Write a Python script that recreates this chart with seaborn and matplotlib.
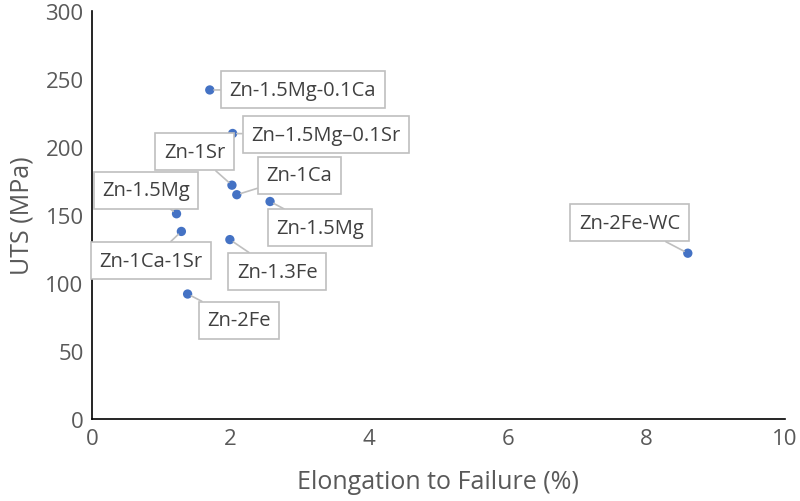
import numpy as np
import pandas as pd
import matplotlib
matplotlib.use('Agg')
import matplotlib.pyplot as plt
import seaborn as sns

# alloy data
alloys = ['Zn-1.5Mg-0.1Ca', 'Zn\u20131.5Mg\u20130.1Sr', 'Zn-1Sr', 'Zn-1Ca', 'Zn-1.5Mg',
          'Zn-1.5Mg', 'Zn-1Ca-1Sr', 'Zn-1.3Fe', 'Zn-2Fe', 'Zn-2Fe-WC']
elongation = [1.70, 2.03, 2.02, 2.09, 2.57, 1.22, 1.29, 1.99, 1.38, 8.60]
uts = [242, 210, 172, 165, 160, 151, 138, 132, 92, 122]

# label box offsets (points) from each marker
label_dx = [67, 67, -27, 45, 36, -22, -22, 34, 37, -42]
label_dy = [0, -1, 24, 14, -19, 17, -21, -23, -19, 22]

df = pd.DataFrame({'alloy': alloys, 'elong': elongation, 'uts': uts})

sns.set_style('white')
plt.rcParams['font.family'] = ['Open Sans', 'DejaVu Sans']

fig = plt.figure(figsize=(8, 5.02), dpi=100)
ax = fig.add_axes([0.115, 0.163, 0.866, 0.813])

sns.scatterplot(data=df, x='elong', y='uts', ax=ax, color='#4472C4',
                s=45, edgecolor='none', zorder=3)

for name, x, y, dx, dy in zip(alloys, elongation, uts, label_dx, label_dy):
    ax.annotate(name, xy=(x, y), xytext=(dx, dy), textcoords='offset points',
                ha='center', va='center', fontsize=14.5, color='#404040',
                bbox=dict(boxstyle='square,pad=0.42', fc='white', ec='#bfbfbf', lw=1.2),
                arrowprops=dict(arrowstyle='-', color='#bfbfbf', lw=1.2,
                                shrinkA=0, shrinkB=3),
                zorder=4)

ax.set_xlim(0, 10)
ax.set_ylim(0, 300)
ax.set_xticks(np.arange(0, 11, 2))
ax.set_yticks(np.arange(0, 301, 50))
ax.tick_params(direction='in', length=7, width=1.2, colors='black',
               labelcolor='#595959', labelsize=16, pad=6)
for side in ['top', 'right']:
    ax.spines[side].set_visible(False)
for side in ['left', 'bottom']:
    ax.spines[side].set_color('black')
    ax.spines[side].set_linewidth(1.2)

ax.set_xlabel('Elongation to Failure (%)', fontsize=18, color='#595959', labelpad=15)
ax.set_ylabel('UTS (MPa)', fontsize=18, color='#595959', labelpad=8)

fig.savefig('out.png', dpi=100)
